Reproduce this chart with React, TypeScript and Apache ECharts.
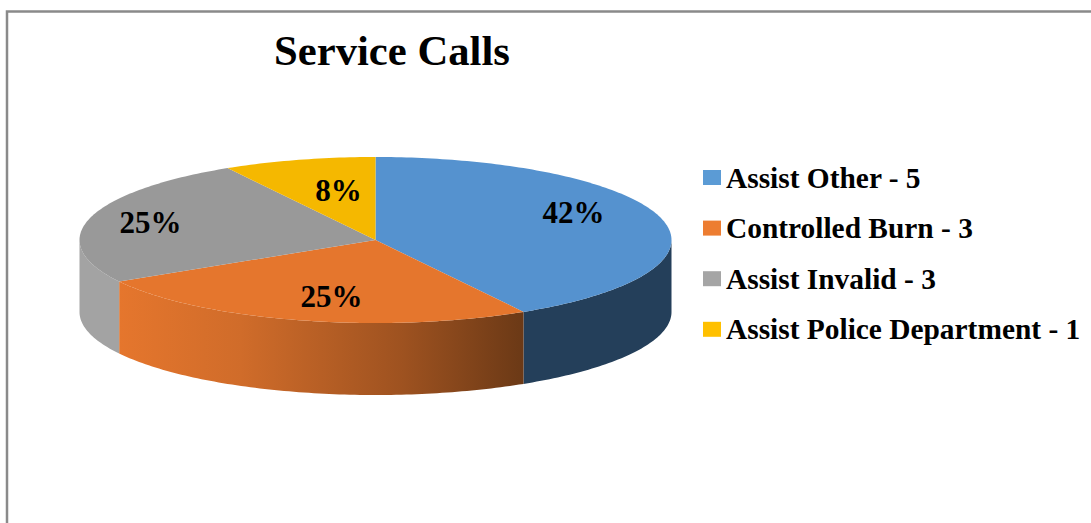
import React, { useEffect, useRef } from "react";
import * as echarts from "echarts";

const categories = ["Assist Other", "Controlled Burn", "Assist Invalid", "Assist Police Department"];
const values = [5, 3, 3, 1];
const legendColors = ["#5b9bd5", "#ed7d31", "#a5a5a5", "#ffc000"];
const topColors = ["#5592cf", "#e5762d", "#999999", "#f5b800"];

const CX = 375.5, CY = 240, RX = 296, RY = 83, DEPTH = 72;
const SERIF = '"Liberation Serif", serif';
const labelOffsets = [[198, -28], [-44, 56], [-225, -18], [-37, -50]];

const total = values.reduce((a, b) => a + b, 0);
const rim = (deg: number, dy = 0) => {
  const a = (deg * Math.PI) / 180;
  return [CX + RX * Math.sin(a), CY - RY * Math.cos(a) + dy];
};
const arc = (from: number, to: number, dy = 0) => {
  const pts: number[][] = [];
  const n = Math.max(2, Math.ceil(Math.abs(to - from)));
  for (let i = 0; i <= n; i++) pts.push(rim(from + ((to - from) * i) / n, dy));
  return pts;
};
const wallFill = (i: number): any => {
  if (i === 0) return "#243f5a";
  if (i === 1)
    return new echarts.graphic.LinearGradient(0, 0, 1, 0, [
      { offset: 0, color: "#e5762d" },
      { offset: 0.3, color: "#d06c2a" },
      { offset: 0.7, color: "#9e5220" },
      { offset: 1, color: "#6b3916" },
    ]);
  return "#a3a3a3";
};

const renderSlice = (i: number) => (_p: any, api: any) => {
  const start = (values.slice(0, i).reduce((a, b) => a + b, 0) / total) * 360;
  const end = start + (api.value(0) / total) * 360;
  const children: any[] = [];
  const wFrom = Math.max(start, 90), wTo = Math.min(end, 270);
  if (wTo > wFrom) {
    children.push({
      type: "polygon",
      shape: { points: [...arc(wFrom, wTo), ...arc(wTo, wFrom, DEPTH)] },
      style: { fill: wallFill(i) },
    });
  }
  children.push({
    type: "polygon",
    shape: { points: [[CX, CY], ...arc(start, end)] },
    style: { fill: topColors[i] },
  });
  children.push({
    type: "text",
    x: CX + labelOffsets[i][0],
    y: CY + labelOffsets[i][1],
    z2: 10,
    style: {
      text: `${Math.round((api.value(0) / total) * 100)}%`,
      font: `bold 31px ${SERIF}`,
      fill: "#000",
      align: "center",
      verticalAlign: "middle",
      textAlign: "center",
      textVerticalAlign: "middle",
    },
  });
  return { type: "group", children };
};

export default function App() {
  const ref = useRef<HTMLDivElement>(null);
  useEffect(() => {
    const chart = echarts.init(ref.current!, undefined, { renderer: "svg" });
    chart.setOption({
      animation: false,
      backgroundColor: "#ffffff",
      title: {
        text: "Service Calls",
        left: 274,
        top: 29,
        padding: 0,
        textStyle: { fontFamily: SERIF, fontWeight: "bold", fontSize: 42.7, color: "#000" },
      },
      legend: {
        orient: "vertical",
        left: 703,
        top: 161,
        padding: 0,
        itemWidth: 18,
        itemHeight: 15,
        itemGap: 17.6,
        icon: "rect",
        selectedMode: false,
        textStyle: { fontFamily: SERIF, fontWeight: "bold", fontSize: 29.4, color: "#000", height: 33, lineHeight: 33 },
      },
      graphic: [
        {
          type: "polyline",
          shape: { points: [[7, 523], [7, 11.5], [1091, 11.5]] },
          style: { stroke: "#8a8a8a", lineWidth: 2.5, fill: "none" },
        },
      ],
      series: categories.map((c, i) => ({
        type: "custom",
        name: `${c} - ${values[i]}`,
        coordinateSystem: "none",
        itemStyle: { color: legendColors[i] },
        renderItem: renderSlice(i),
        data: [values[i]],
        silent: true,
      })),
    });
    return () => chart.dispose();
  }, []);
  return <div ref={ref} style={{ position: "absolute", left: 0, top: 0, width: 1091, height: 523 }} />;
}
